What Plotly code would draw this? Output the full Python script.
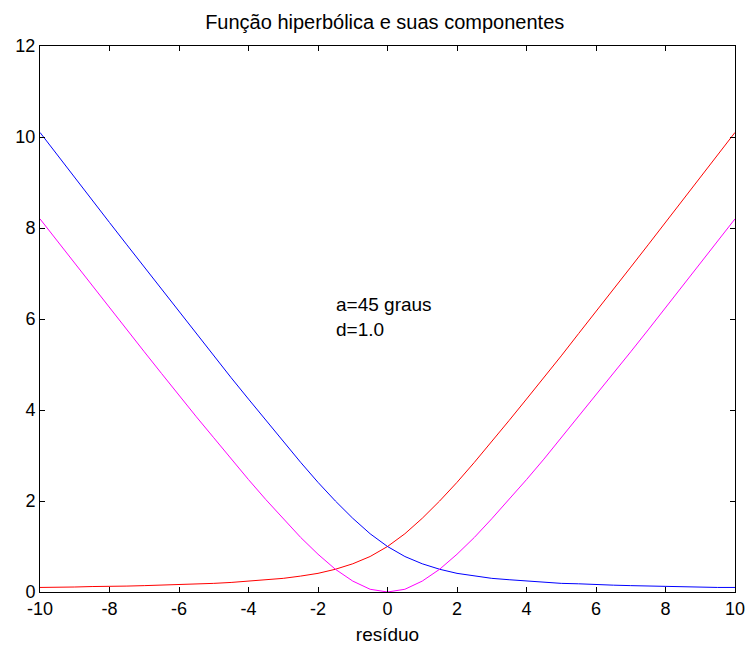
import plotly.graph_objects as go

x_vals = [-10, -9.5, -9, -8.5, -8, -7.5, -7, -6.5, -6, -5.5, -5, -4.5, -4, -3.5, -3, -2.5, -2, -1.5, -1, -0.5,
          0, 0.5, 1, 1.5, 2, 2.5, 3, 3.5, 4, 4.5, 5, 5.5, 6, 6.5, 7, 7.5, 8, 8.5, 9, 9.5, 10]

red_vals = [0.10, 0.10, 0.11, 0.12, 0.12, 0.13, 0.14, 0.15, 0.16, 0.18, 0.19, 0.21, 0.24, 0.27, 0.30, 0.35, 0.41, 0.50, 0.62, 0.78,
            1.00, 1.28, 1.62, 2.00, 2.41, 2.85, 3.30, 3.77, 4.24, 4.71, 5.19, 5.68, 6.16, 6.65, 7.14, 7.63, 8.12, 8.62, 9.11, 9.60, 10.10]

blue_vals = [10.10, 9.60, 9.11, 8.62, 8.12, 7.63, 7.14, 6.65, 6.16, 5.68, 5.19, 4.71, 4.24, 3.77, 3.30, 2.85, 2.41, 2.00, 1.62, 1.28,
             1.00, 0.78, 0.62, 0.50, 0.41, 0.35, 0.30, 0.27, 0.24, 0.21, 0.19, 0.18, 0.16, 0.15, 0.14, 0.13, 0.12, 0.12, 0.11, 0.10, 0.10]

magenta_vals = [8.20, 7.71, 7.22, 6.73, 6.25, 5.76, 5.28, 4.80, 4.32, 3.85, 3.39, 2.92, 2.47, 2.03, 1.61, 1.20, 0.83, 0.50, 0.24, 0.06,
                0.00, 0.06, 0.24, 0.50, 0.83, 1.20, 1.61, 2.03, 2.47, 2.92, 3.39, 3.85, 4.32, 4.80, 5.28, 5.76, 6.25, 6.73, 7.22, 7.71, 8.20]

x_ticks = [-10, -8, -6, -4, -2, 0, 2, 4, 6, 8, 10]
y_ticks = [0, 2, 4, 6, 8, 10, 12]

title_text = "Função hiperbólica e suas componentes"
x_label = "resíduo"
notes = ["a=45 graus", "d=1.0"]
note_x = -1.52
note_y = [6.31, 5.76]

FONT = "Liberation Sans, Arial, sans-serif"
TXT = 19
TITLE = 20
TICK = 18

fig = go.Figure()
fig.add_trace(go.Scatter(x=x_vals, y=red_vals, mode="lines", line=dict(color="#ff0000", width=1), showlegend=False))
fig.add_trace(go.Scatter(x=x_vals, y=blue_vals, mode="lines", line=dict(color="#0000ff", width=1), showlegend=False))
fig.add_trace(go.Scatter(x=x_vals, y=magenta_vals, mode="lines", line=dict(color="#ff00ff", width=1), showlegend=False))

for t, yy in zip(notes, note_y):
    fig.add_annotation(x=note_x, y=yy, text=t, showarrow=False, xanchor="left", yanchor="middle",
                       borderpad=0, font=dict(family=FONT, size=TXT, color="black"))

axis_common = dict(showgrid=False, zeroline=False, showline=True, linecolor="black", linewidth=1,
                   mirror="ticks", ticks="inside", ticklen=5, tickcolor="black", automargin=False,
                   tickfont=dict(family=FONT, size=TICK, color="black"))

fig.update_layout(
    width=747, height=649,
    margin=dict(l=40, r=12, t=46, b=57),
    paper_bgcolor="white", plot_bgcolor="white",
    title=dict(text=title_text, x=0.515, xanchor="center", y=0.966, yanchor="middle",
               font=dict(family=FONT, size=TITLE, color="black")),
    xaxis=dict(range=[-10, 10], tickvals=x_ticks, ticktext=[str(v) for v in x_ticks],
               title=dict(text=x_label, font=dict(family=FONT, size=TXT, color="black"), standoff=10),
               **axis_common),
    yaxis=dict(range=[0, 12], tickvals=y_ticks, ticktext=[str(v) for v in y_ticks], **axis_common),
)

fig.write_html("out.html")
